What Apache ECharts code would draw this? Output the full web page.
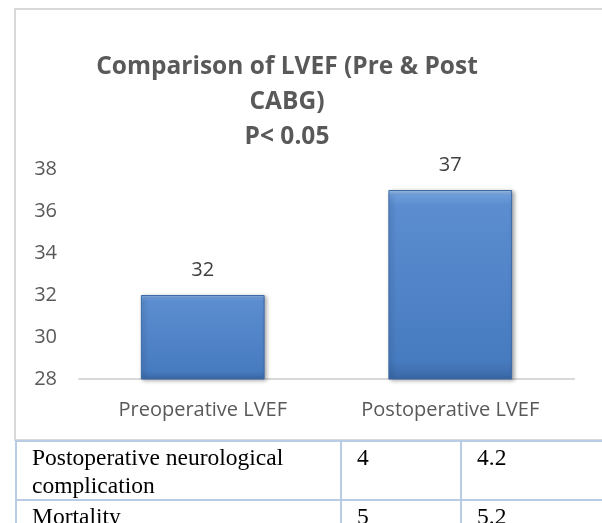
<!DOCTYPE html>
<html>
<head>
<meta charset="utf-8">
<script src="https://cdn.jsdelivr.net/npm/echarts@6/dist/echarts.min.js"></script>
<style>
  html, body { margin: 0; padding: 0; background: #fff; overflow: hidden; }
  #wrap { position: relative; width: 602px; height: 523px; overflow: hidden; }
  #chart { position: absolute; left: 0; top: 0; width: 602px; height: 523px; }
  #tbl { position: absolute; left: 15px; top: 440px; border-collapse: collapse; table-layout: fixed; width: 665px;
         font-family: "Liberation Serif", "Times New Roman", serif; font-size: 23.5px; color: #000; }
  #tbl td { border: 2px solid #b8cce4; vertical-align: top; padding: 1px 0 0 15px; line-height: 28px; box-sizing: border-box; white-space: nowrap; }
  #tbl tr:first-child td { border-top-color: transparent; }
</style>
</head>
<body>
<div id="wrap">
  <div id="chart"></div>
  <table id="tbl"></table>
</div>
<script>
const titleLines = ["Comparison of LVEF (Pre & Post", "CABG)", "P< 0.05"];
const categories = ["Preoperative LVEF", "Postoperative LVEF"];
const lvefValues = [32, 37];
const yMin = 28, yMax = 38, yInterval = 2;

const tableRows = ["Postoperative neurological\ncomplication", "Mortality"];
const tableCol1 = ["4", "5"];
const tableCol2 = ["4.2", "5.2"];

// build table
const tbl = document.getElementById('tbl');
const colWidths = [325, 120, 220];
const rowHeights = [58, 40];
const cg = document.createElement('colgroup');
colWidths.forEach(w => { const c = document.createElement('col'); c.style.width = w + 'px'; cg.appendChild(c); });
tbl.appendChild(cg);
tableRows.forEach((r, i) => {
  const tr = document.createElement('tr');
  [r, tableCol1[i], tableCol2[i]].forEach((txt, j) => {
    const td = document.createElement('td');
    td.style.height = rowHeights[i] + 'px';
    td.innerHTML = txt.replace(/\n/g, '<br>');
    tr.appendChild(td);
  });
  tbl.appendChild(tr);
});

const chart = echarts.init(document.getElementById('chart'), null, { renderer: 'canvas' });
const barFill = new echarts.graphic.LinearGradient(0, 0, 0, 1, [
  { offset: 0, color: '#a7c7ef' },
  { offset: 0.025, color: '#6f9edb' },
  { offset: 0.08, color: '#5b8dd0' },
  { offset: 0.9, color: '#477bc0' },
  { offset: 1, color: '#3a68a6' }
]);
chart.setOption({
  animation: false,
  graphic: [
    { type: 'rect', shape: { x: 15, y: 9, width: 700, height: 431 },
      style: { fill: 'none', stroke: '#d9d9d9', lineWidth: 2 }, z: -10 },
    { type: 'text', x: 287, y: 102,
      style: { text: titleLines.join('\n'), align: 'center', verticalAlign: 'middle',
               font: 'bold 24.5px "Open Sans"', lineHeight: 35, fill: '#595959' } }
  ],
  grid: { left: 79, right: 28, top: 169, bottom: 144 },
  xAxis: {
    type: 'category', data: categories,
    axisLine: { lineStyle: { color: '#d9d9d9', width: 2 } },
    axisTick: { show: false },
    axisLabel: { color: '#595959', fontFamily: 'Open Sans', fontSize: 20, margin: 19, lineHeight: 24 }
  },
  yAxis: {
    type: 'value', min: yMin, max: yMax, interval: yInterval,
    axisLine: { show: false }, axisTick: { show: false }, splitLine: { show: false },
    axisLabel: { color: '#595959', fontFamily: 'Open Sans', fontSize: 20, margin: 22 }
  },
  series: [{
    type: 'bar', data: lvefValues, barWidth: '50%',
    itemStyle: { color: barFill, borderColor: '#3c6aa6', borderWidth: 1,
                 shadowColor: 'rgba(0,0,0,0.35)', shadowBlur: 4, shadowOffsetX: 2, shadowOffsetY: 1 },
    label: { show: true, position: 'top', distance: 13, color: '#404040',
             fontFamily: 'Open Sans', fontSize: 20, lineHeight: 24 }
  }]
});
</script>
</body>
</html>
